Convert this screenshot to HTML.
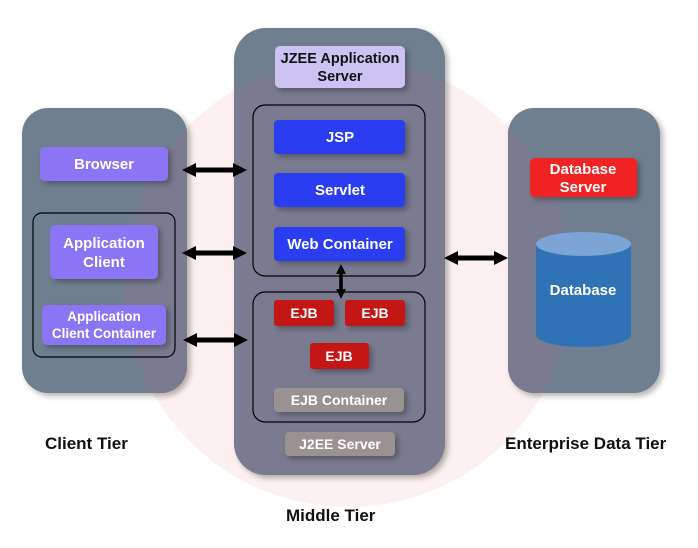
<!DOCTYPE html>
<html><head><meta charset="utf-8"><style>
html,body{margin:0;padding:0;background:#fff;}
svg{display:block;font-family:"Liberation Sans",sans-serif;font-weight:bold;}
</style></head><body>
<svg width="698" height="548" viewBox="0 0 698 548" xmlns="http://www.w3.org/2000/svg">
<defs>
<filter id="sh" x="-20%" y="-20%" width="150%" height="150%"><feDropShadow dx="3" dy="3" stdDeviation="3" flood-color="#000" flood-opacity="0.3"/></filter>
<marker id="ah" viewBox="0 0 10 10" refX="5" refY="5" markerWidth="2.8" markerHeight="3" orient="auto-start-reverse"><path d="M0,0 L10,5 L0,10 z" fill="#000"/></marker>
<clipPath id="cc"><circle cx="348" cy="283" r="224"/></clipPath>
</defs>
<circle cx="348" cy="283" r="224" fill="#fcf0f0"/>
<!-- panels -->
<g id="panels">
<rect x="22" y="108" width="165" height="285" rx="26" fill="#707f90" filter="url(#sh)"/>
<rect x="234" y="28" width="211" height="447" rx="32" fill="#707f90" filter="url(#sh)"/>
<rect x="508" y="108" width="152" height="285" rx="26" fill="#707f90" filter="url(#sh)"/>
</g>
<g clip-path="url(#cc)" fill="#7a7b90">
<rect x="22" y="108" width="165" height="285" rx="26"/>
<rect x="234" y="28" width="211" height="447" rx="32"/>
<rect x="508" y="108" width="152" height="285" rx="26"/>
</g>

<!-- client -->
<rect x="40" y="147" width="128" height="34" rx="5" fill="#8b74f4" filter="url(#sh)"/>
<text x="104" y="169" fill="#fff" font-size="15" text-anchor="middle">Browser</text>
<rect x="33" y="213" width="142" height="144" rx="9" fill="none" stroke="#000" stroke-width="1.2"/>
<rect x="50" y="225" width="108" height="54" rx="5" fill="#8b74f4" filter="url(#sh)"/>
<text x="104" y="248" fill="#fff" font-size="15" text-anchor="middle">Application</text>
<text x="104" y="267" fill="#fff" font-size="15" text-anchor="middle">Client</text>
<rect x="42" y="305" width="124" height="40" rx="5" fill="#8b74f4" filter="url(#sh)"/>
<text x="104" y="321" fill="#fff" font-size="13.5" text-anchor="middle">Application</text>
<text x="104" y="338" fill="#fff" font-size="13.5" text-anchor="middle">Client Container</text>

<!-- middle -->
<rect x="275" y="46" width="130" height="42" rx="5" fill="#cdc3f3" filter="url(#sh)"/>
<text x="340" y="63" fill="#111" font-size="14.5" text-anchor="middle">JZEE Application</text>
<text x="340" y="81" fill="#111" font-size="14.5" text-anchor="middle">Server</text>
<rect x="253" y="105" width="172" height="171" rx="12" fill="none" stroke="#000" stroke-width="1.2"/>
<rect x="274" y="120" width="131" height="34" rx="4" fill="#2a3cf0" filter="url(#sh)"/>
<text x="340" y="142" fill="#fff" font-size="15" text-anchor="middle">JSP</text>
<rect x="274" y="173" width="131" height="34" rx="4" fill="#2a3cf0" filter="url(#sh)"/>
<text x="340" y="195" fill="#fff" font-size="15" text-anchor="middle">Servlet</text>
<rect x="274" y="227" width="131" height="34" rx="4" fill="#2a3cf0" filter="url(#sh)"/>
<text x="340" y="249" fill="#fff" font-size="15" text-anchor="middle">Web Container</text>
<rect x="253" y="292" width="172" height="130" rx="12" fill="none" stroke="#000" stroke-width="1.2"/>
<rect x="274" y="300" width="60" height="26" rx="3" fill="#c51717" filter="url(#sh)"/>
<text x="304" y="318" fill="#fff" font-size="14" text-anchor="middle">EJB</text>
<rect x="345" y="300" width="60" height="26" rx="3" fill="#c51717" filter="url(#sh)"/>
<text x="375" y="318" fill="#fff" font-size="14" text-anchor="middle">EJB</text>
<rect x="310" y="343" width="59" height="26" rx="3" fill="#c51717" filter="url(#sh)"/>
<text x="339" y="361" fill="#fff" font-size="14" text-anchor="middle">EJB</text>
<rect x="274" y="388" width="130" height="24" rx="4" fill="#9a9192" filter="url(#sh)"/>
<text x="339" y="405" fill="#fff" font-size="14" text-anchor="middle">EJB Container</text>
<rect x="285" y="432" width="110" height="24" rx="4" fill="#9a9192" filter="url(#sh)"/>
<text x="340" y="449" fill="#fff" font-size="14" text-anchor="middle">J2EE Server</text>

<!-- data tier -->
<rect x="530" y="158" width="107" height="39" rx="5" fill="#f02222" filter="url(#sh)"/>
<text x="583" y="174" fill="#fff" font-size="15" text-anchor="middle">Database</text>
<text x="583" y="192" fill="#fff" font-size="15" text-anchor="middle">Server</text>
<path d="M536,244 L536,335 A47.5,12 0 0 0 631,335 L631,244 Z" fill="#2f72b6"/>
<ellipse cx="583.5" cy="244" rx="47.5" ry="12" fill="#7ca4d4"/>
<text x="583" y="295" fill="#fff" font-size="15" text-anchor="middle">Database</text>

<!-- arrows -->
<g stroke="#000" stroke-width="5" marker-start="url(#ah)" marker-end="url(#ah)">
<line x1="189" y1="170" x2="240" y2="170"/>
<line x1="189" y1="253" x2="240" y2="253"/>
<line x1="190" y1="340" x2="241" y2="340"/>
<line x1="451" y1="258" x2="501" y2="258"/>
<line x1="341" y1="269" x2="341" y2="294" stroke-width="3.5"/>
</g>

<!-- tier labels -->
<g fill="#111" font-size="17">
<text x="45" y="449">Client Tier</text>
<text x="286" y="521">Middle Tier</text>
<text x="505" y="449">Enterprise Data Tier</text>
</g>
</svg>
</body></html>
